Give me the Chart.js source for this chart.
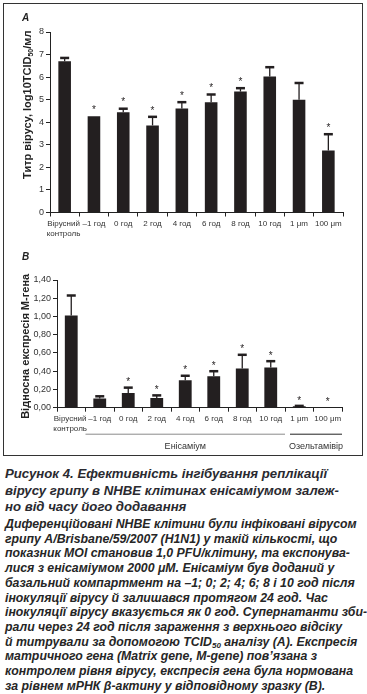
<!DOCTYPE html>
<html><head><meta charset="utf-8">
<script src="https://cdn.jsdelivr.net/npm/chart.js@4"></script>
<style>
html,body{margin:0;padding:0;background:#fff;}
#wrap{position:relative;width:367px;height:694px;overflow:hidden;}
#box{position:absolute;left:3px;top:3px;width:358px;height:451px;border:1px solid #333;}
canvas{position:absolute;left:0;}
.panel{position:absolute;font:italic bold 10px "Liberation Sans",Arial,sans-serif;color:#222;}
#cap{position:absolute;left:5px;top:466px;width:362px;font-family:"Liberation Sans",Arial,sans-serif;font-style:italic;font-weight:bold;color:#262626;white-space:nowrap;}
#cap .h{font-size:13.2px;letter-spacing:0;line-height:16.5px;color:#2a2a30;}
#cap .b{font-size:12.3px;line-height:14.7px;margin-top:1.5px;}
#cap sub{font-size:8px;line-height:0;vertical-align:-2px;}
</style></head>
<body><div id="wrap">
<div id="box"></div>
<canvas id="cA" width="367" height="245" style="top:0"></canvas>
<canvas id="cB" width="367" height="210" style="top:245px"></canvas>
<div class="panel" style="left:22px;top:12px">A</div>
<div class="panel" style="left:22px;top:251px">B</div>
<div id="cap">
<div class="h">Рисунок 4. Ефективність інгібування реплікації<br>вірусу грипу в NHBE клітинах енісаміумом залеж-<br>но від часу його додавання</div>
<div class="b">Диференційовані NHBE клітини були інфіковані вірусом<br>грипу A/Brisbane/59/2007 (H1N1) у такій кількості, що<br>показник MOI становив 1,0 PFU/клітину, та експонува-<br>лися з енісаміумом 2000 μМ. Енісаміум був доданий у<br>базальний компартмент на –1; 0; 2; 4; 6; 8 і 10 год після<br>інокуляції вірусу й залишався протягом 24 год. Час<br>інокуляції вірусу вказується як 0 год. Супернатанти зби-<br>рали через 24 год після зараження з верхнього відсіку<br>й титрували за допомогою TCID<sub>50</sub> аналізу (А). Експресія<br>матричного гена (Matrix gene, M-gene) пов’язана з<br>контролем рівня вірусу, експресія гена була нормована<br>за рівнем мРНК β-актину у відповідному зразку (В).</div>
</div>
</div>
<script>
// ---- data ----
const categories = [['Вірусний ','контроль '],'–1 год','0 год','2 год','4 год','6 год','8 год','10 год','1 μm','100 μm'];
const titreMean = [6.70, 4.27, 4.44, 3.86, 4.61, 4.89, 5.36, 6.03, 5.00, 2.75];
const titreErr  = [0.15, 0.00, 0.16, 0.38, 0.28, 0.34, 0.15, 0.41, 0.74, 0.72];
const titreSig  = [false, true, true, true, true, true, true, false, false, true];
const titreTicks = ['0','1','2','3','4','5','6','7','8'];

const mgeneMean = [1.01, 0.10, 0.16, 0.105, 0.30, 0.345, 0.43, 0.44, 0.015, 0.00];
const mgeneErr  = [0.22, 0.025, 0.06, 0.03, 0.05, 0.055, 0.15, 0.07, 0.005, 0.00];
const mgeneSig  = [false, false, true, true, true, true, true, true, true, true];
const mgeneTicks = ['0,00','0,20','0,40','0,60','0,80','1,00','1,20','1,40'];

const groups = [{label:'Енісаміум', from:1, to:7, color:'#8a8a8a'}, {label:'Озельтамівір', from:8, to:9, color:'#222'}];

const FONT = '"Liberation Sans", Arial, sans-serif';
const INK = '#231f20';

const decor = {
  id:'decor',
  afterDatasetsDraw(chart, args, o){
    const ctx = chart.ctx, y = chart.scales.y;
    const meta = chart.getDatasetMeta(0);
    ctx.save();
    ctx.strokeStyle = INK; ctx.fillStyle = INK;
    meta.data.forEach((bar, i) => {
      const m = o.means[i], e = o.errs[i];
      let top = y.getPixelForValue(m);
      if (e > 0) {
        const t = y.getPixelForValue(m + e);
        ctx.lineWidth = 1.3;
        ctx.beginPath(); ctx.moveTo(bar.x, top); ctx.lineTo(bar.x, t); ctx.stroke();
        ctx.lineWidth = 2.5;
        ctx.beginPath(); ctx.moveTo(bar.x - 4.5, t); ctx.lineTo(bar.x + 4.5, t); ctx.stroke();
        top = t;
      }
      if (o.sig[i]) {
        ctx.font = '10px ' + FONT;
        ctx.textAlign = 'center'; ctx.textBaseline = 'alphabetic';
        ctx.fillText('*', bar.x, top - o.gap + 5.7);
      }
    });
    // y title
    const a = chart.chartArea;
    const cy = (a.top + a.bottom) / 2 + o.titleShift;
    ctx.translate(o.titleX, cy); ctx.rotate(-Math.PI / 2);
    ctx.fillStyle = '#222';
    const parts = o.title;
    const big = 'bold 11px ' + FONT, small = 'bold 7px ' + FONT;
    let w = 0;
    parts.forEach(p => { ctx.font = p.sub ? small : big; w += ctx.measureText(p.t).width; });
    let x = -w / 2;
    ctx.textAlign = 'left'; ctx.textBaseline = 'middle';
    parts.forEach(p => {
      ctx.font = p.sub ? small : big;
      ctx.fillText(p.t, x, p.sub ? 3 : 0);
      x += ctx.measureText(p.t).width;
    });
    ctx.restore();
  },
  afterDraw(chart, args, o){
    if (!o.groups) return;
    const ctx = chart.ctx, xs = chart.scales.x;
    const half = (xs.getPixelForValue(1) - xs.getPixelForValue(0)) / 2;
    ctx.save();
    o.groups.forEach((g, gi) => {
      const l = xs.getPixelForValue(g.from) - half + (gi ? 5 : 0);
      const r = xs.getPixelForValue(g.to) + half;
      const ly = chart.chartArea.bottom + 26.5;
      ctx.strokeStyle = g.color; ctx.lineWidth = 1;
      ctx.beginPath(); ctx.moveTo(l, ly); ctx.lineTo(r, ly); ctx.stroke();
      ctx.fillStyle = '#333'; ctx.font = '9px ' + FONT;
      ctx.textAlign = 'center'; ctx.textBaseline = 'middle';
      ctx.fillText(g.label, (l + r) / 2, ly + 12.5);
    });
    ctx.restore();
  }
};

function makeChart(id, means, errs, sig, ticks, cfg){
  return new Chart(document.getElementById(id), {
    type:'bar',
    data:{labels:categories, datasets:[{data:means, backgroundColor:INK, borderWidth:0,
      categoryPercentage:1, barPercentage:cfg.barPct}]},
    options:{
      responsive:false, animation:false, devicePixelRatio:1,
      layout:{padding:{left:0, top:cfg.padTop, right:cfg.padRight, bottom:0}},
      plugins:{legend:{display:false}, tooltip:{enabled:false},
        decor:{means, errs, sig, gap:cfg.gap, title:cfg.title, titleX:cfg.titleX, titleShift:cfg.titleShift, groups:cfg.groups}},
      scales:{
        x:{grid:{drawOnChartArea:false, tickLength:4, color:'#222', offset:true},
           border:{color:'#222', width:1},
           ticks:{font:{family:FONT, size:8}, color:'#333', padding:2.5, maxRotation:0, autoSkip:false},
           afterFit:s => { s.height = cfg.xH; }},
        y:{min:0, max:cfg.max, grid:{drawOnChartArea:false, tickLength:4, color:'#222'},
           border:{color:'#222', width:1},
           ticks:{stepSize:cfg.step, font:{family:FONT, size:9}, color:'#333', padding:2,
             callback:(v, i) => ticks[i]},
           afterFit:s => { s.width = cfg.yW; }}
      }
    },
    plugins:[decor]
  });
}

makeChart('cA', titreMean, titreErr, titreSig, titreTicks, {
  barPct:0.43, padTop:32, padRight:24, xH:32.5, yW:50, max:8, step:1, gap:9,
  title:[{t:'Титр вірусу, log10TCID'},{t:'50', sub:true},{t:'/мл'}], titleX:28, titleShift:-17.5
});
makeChart('cB', mgeneMean, mgeneErr, mgeneSig, mgeneTicks, {
  barPct:0.45, padTop:35, padRight:25, xH:47.3, yW:57, max:1.4, step:0.2, gap:8,
  title:[{t:'Відносна експресія М-гена'}], titleX:26, titleShift:2.5,
  groups:groups
});
</script>
</body></html>
